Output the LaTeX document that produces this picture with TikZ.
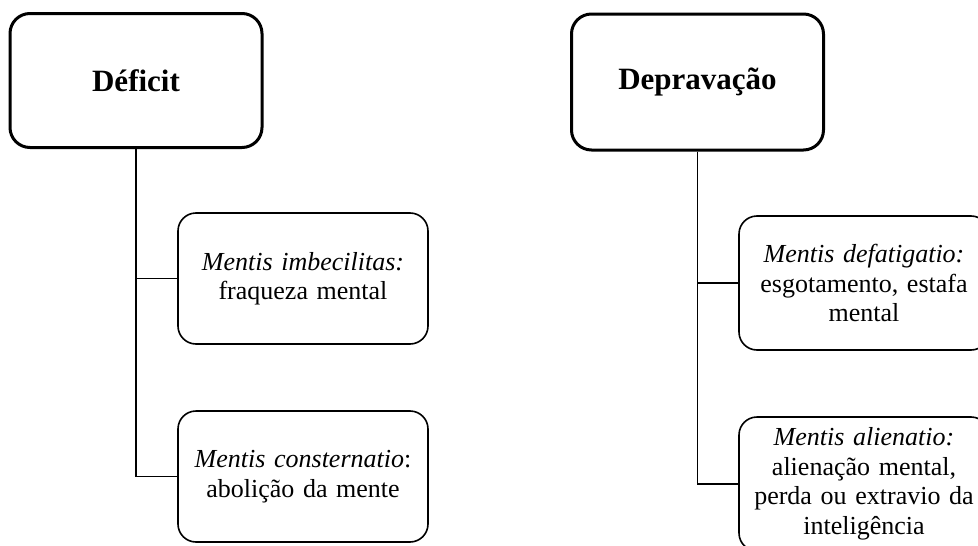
\documentclass[tikz,border=0pt]{standalone}
\usepackage{fontspec}
\setmainfont{Liberation Serif}
\begin{document}
\begin{tikzpicture}[x=1pt,y=-1pt,
  titlebox/.style={draw, line width=3pt, rounded corners=20pt, minimum width=252pt, minimum height=134pt, inner sep=0pt, font=\fontsize{31}{34}\selectfont\bfseries},
  itembox/.style={draw, line width=1.6pt, rounded corners=18pt, minimum width=250pt, inner sep=0pt, align=center, text width=244pt, font=\fontsize{26}{29.5}\selectfont},
  conn/.style={line width=1.8pt}]
\clip (0,0) rectangle (978,546);
\useasboundingbox (0,0) rectangle (978,546);
\node[titlebox] (t1) at (136,80.5) {Déficit};
\node[titlebox, minimum height=136pt] (t2) at (697.5,82) {Depravação};
\node[itembox, minimum height=131pt] (a1) at (303,278.5) {\textit{Mentis imbecilitas:}\\fraqueza mental};
\node[itembox, minimum height=131pt] (a2) at (303,476.5) {\textit{Mentis consternatio}:\\abolição da mente};
\node[itembox, minimum height=134pt] (b1) at (864,283) {\textit{Mentis defatigatio:}\\esgotamento, estafa\\mental};
\node[itembox, minimum height=134pt] (b2) at (864,484) {\textit{Mentis alienatio:}\\alienação mental,\\perda ou extravio da\\inteligência};
\draw[conn] (t1.south) |- (a1.west);
\draw[conn] (t1.south) |- (a2.west);
\draw[conn] (t2.south) |- (b1.west);
\draw[conn] (t2.south) |- (b2.west);
\end{tikzpicture}
\end{document}
